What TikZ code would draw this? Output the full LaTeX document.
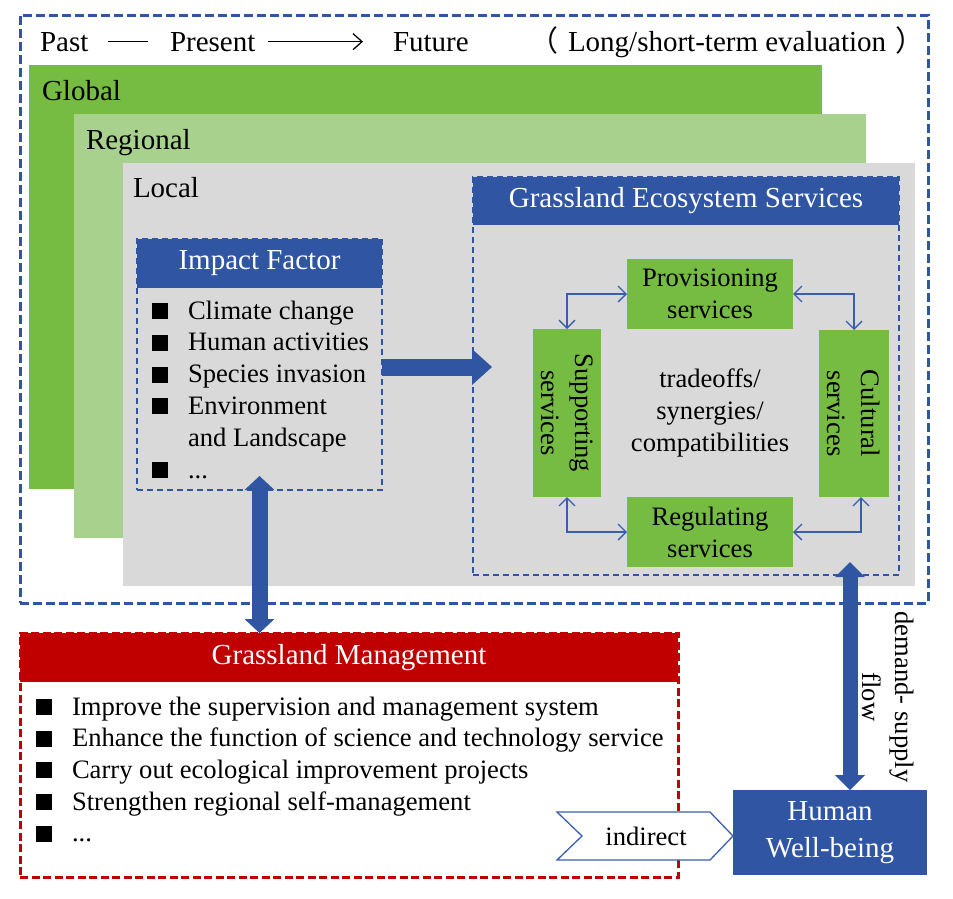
\documentclass[tikz,border=0pt]{standalone}
\usepackage{fontspec}
\setmainfont{Liberation Serif}
\newfontfamily\cjkfont{Noto Sans CJK SC}
\usetikzlibrary{arrows.meta,calc}
\definecolor{gGreen}{HTML}{76BC43}
\definecolor{lGreen}{HTML}{A9D18E}
\definecolor{lGray}{HTML}{D9D9D9}
\definecolor{bBlue}{HTML}{2F55A3}
\definecolor{aBlue}{HTML}{3A5EAE}
\definecolor{rRed}{HTML}{C00000}
\newcommand\bodyfs{\fontsize{26.6pt}{31.8pt}\selectfont}
\newcommand\headfs{\fontsize{29pt}{37pt}\selectfont}
\begin{document}
\begin{tikzpicture}[x=1pt,y=-1pt,
  rbox/.style={inner sep=0pt, outer sep=0pt, anchor=north west},
  txt/.style={inner sep=0pt, outer sep=0pt, font=\bodyfs},
  hdtxt/.style={inner sep=0pt, outer sep=0pt, font=\headfs},
  bul/.style={fill=black, minimum size=16pt, inner sep=0pt, outer sep=0pt},
  svc/.style={rbox, fill=gGreen, align=center, font=\bodyfs},
  thindash/.style={draw=bBlue, line width=1.1pt, dash pattern=on 6pt off 4pt},
  sarrow/.style={draw=aBlue, line width=1.3pt,
     {Straight Barb[length=8pt,width=16pt]}-{Straight Barb[length=8pt,width=16pt]}},
]
\useasboundingbox (0,0) rectangle (953,898);

% scale layers
\node[rbox, fill=gGreen, minimum width=793pt, minimum height=424pt] (global) at (29,65) {};
\node[rbox, fill=lGreen, minimum width=792pt, minimum height=424pt] (regional) at (74,114) {};
\node[rbox, fill=lGray, minimum width=792pt, minimum height=423pt] (local) at (123,163) {};
\node[hdtxt, anchor=base west] (globallbl) at (42,100) {Global};
\node[hdtxt, anchor=base west] (regionallbl) at (86,149) {Regional};
\node[hdtxt, anchor=base west] (locallbl) at (133,197) {Local};

% outer frame
\node[rbox, draw=bBlue, line width=3pt, dash pattern=on 9pt off 4pt,
      minimum width=908pt, minimum height=588pt] (frame) at (20,15) {};

% time line
\node[hdtxt, anchor=base west] (past) at (40,51) {Past};
\node[hdtxt, anchor=base west] (present) at (170,51) {Present};
\node[hdtxt, anchor=base west] (future) at (393,51) {Future};
\node[hdtxt, anchor=base west] (evaltxt) at (568,51) {Long/short-term evaluation};
\node[inner sep=0pt, anchor=base, font=\cjkfont\headfs] (lparen) at (544,51) {（};
\node[inner sep=0pt, anchor=base, font=\cjkfont\headfs] (rparen) at (910,51) {）};
\draw[line width=1.3pt, shorten <=20pt, shorten >=22pt] (past.east) -- (present.west);
\draw[line width=1.3pt, -{Straight Barb[length=9pt,width=16pt]}, shorten <=13pt, shorten >=30pt]
  (present.east) -- (future.west);

% impact factor box
\node[rbox, fill=bBlue, minimum width=245pt, minimum height=49pt] (ifhead) at (137,239) {};
\node[hdtxt, text=white] (iftitle) at (ifhead.center) {Impact Factor};
\node[rbox, thindash, minimum width=245pt, minimum height=251pt] (ifbox) at (137,239) {};
\foreach \t/\b [count=\i] in {Climate change/319, Human activities/350.8, Species invasion/382.6,
    Environment/414.4, and Landscape/446.2}
  \node[txt, anchor=base west] (ift\i) at (188,\b) {\t};
\node[txt, anchor=base west] (ift6) at (188,478) {.\kern0pt.\kern0pt.};
\foreach \b [count=\i] in {319,350.8,382.6,414.4,478}
  \node[bul] (ifb\i) at (160,\b-8) {};

% grassland ecosystem services box
\node[rbox, fill=bBlue, minimum width=426pt, minimum height=48pt] (geshead) at (473,177) {};
\node[hdtxt, text=white] (gestitle) at (geshead.center) {Grassland Ecosystem Services};
\node[rbox, thindash, minimum width=426pt, minimum height=398pt] (gesbox) at (473,177) {};

\node[svc, minimum width=166pt, minimum height=70pt] (prov) at (627,259) {Provisioning\\services};
\node[svc, minimum width=166pt, minimum height=70pt] (reg) at (627,497) {Regulating\\services};
\node[rbox, fill=gGreen, minimum width=68pt, minimum height=168pt] (supp) at (533,329) {};
\node[rbox, fill=gGreen, minimum width=70pt, minimum height=167pt] (cult) at (819,330) {};
\node[txt, align=center, rotate=-90, font=\fontsize{26.6pt}{34pt}\selectfont] (supptxt) at (supp.center) {Supporting\\services};
\node[txt, align=center, rotate=-90, font=\fontsize{26.6pt}{34pt}\selectfont] (culttxt) at (cult.center) {Cultural\\services};
\node[txt, align=center] (tradeoff) at (710,413) {tradeoffs/\\synergies/\\compatibilities};

\draw[sarrow] (supp.north) |- (prov.west);
\draw[sarrow] (prov.east) -| (cult.north);
\draw[sarrow] (supp.south) |- (reg.west);
\draw[sarrow] (reg.east) -| ([xshift=7pt]cult.south);

% grassland management box
\node[rbox, fill=rRed, minimum width=658pt, minimum height=49pt] (gmhead) at (20,633) {};
\node[hdtxt, text=white] (gmtitle) at (gmhead.center) {Grassland Management};
\node[rbox, draw=rRed, line width=3pt, dash pattern=on 8pt off 3.5pt,
      minimum width=658pt, minimum height=244pt] (gm) at (20,633) {};
\foreach \t/\b [count=\i] in {Improve the supervision and management system/715,
    Enhance the function of science and technology service/746.7,
    Carry out ecological improvement projects/778.4,
    Strengthen regional self-management/810.1}
  {\node[txt, anchor=base west] (gmt\i) at (72,\b) {\t};}
\node[txt, anchor=base west] (gmt5) at (72,841.8) {.\kern0pt.\kern0pt.};
\foreach \b [count=\i] in {715,746.7,778.4,810.1,841.8}
  {\node[bul] (gmb\i) at (43.5,\b-8) {};}

% human well-being
\node[rbox, fill=bBlue, minimum width=194pt, minimum height=85pt, align=center,
      text=white, font=\headfs] (hw) at (733,790) {Human\\Well-being};

% indirect chevron
\coordinate (indc) at (646,836);
\draw[draw=aBlue, line width=1.3pt, fill=white]
  (557,812) -- (710,812) -- (hw.west |- indc) -- (710,860) -- (557,860) -- (582,836) -- cycle;
\node[txt] (indirect) at (indc) {indirect};

% big arrows
\draw[bBlue, line width=17pt, -{Triangle[length=20pt,width=36pt,line width=0pt]}]
  ([yshift=-2.5pt]ifbox.east) -- ([xshift=19pt,yshift=-2.5pt]ifbox.east -| gesbox.west);
\draw[bBlue, line width=16pt, {Triangle[length=14pt,width=30pt,line width=0pt]}-{Triangle[length=14pt,width=30pt,line width=0pt]}]
  ([yshift=14pt]ifbox.south) -- (ifbox.south |- gm.north);
\draw[bBlue, line width=15pt, {Triangle[length=15pt,width=30pt,line width=0pt]}-{Triangle[length=15pt,width=30pt,line width=0pt]}]
  ([xshift=20pt,yshift=13pt]hw.north |- gesbox.south) -- ([xshift=20pt]hw.north);

\node[txt, align=center, rotate=-90, font=\fontsize{26.6pt}{33pt}\selectfont] (dstext) at (888,697) {demand- supply\\flow};
\end{tikzpicture}
\end{document}
